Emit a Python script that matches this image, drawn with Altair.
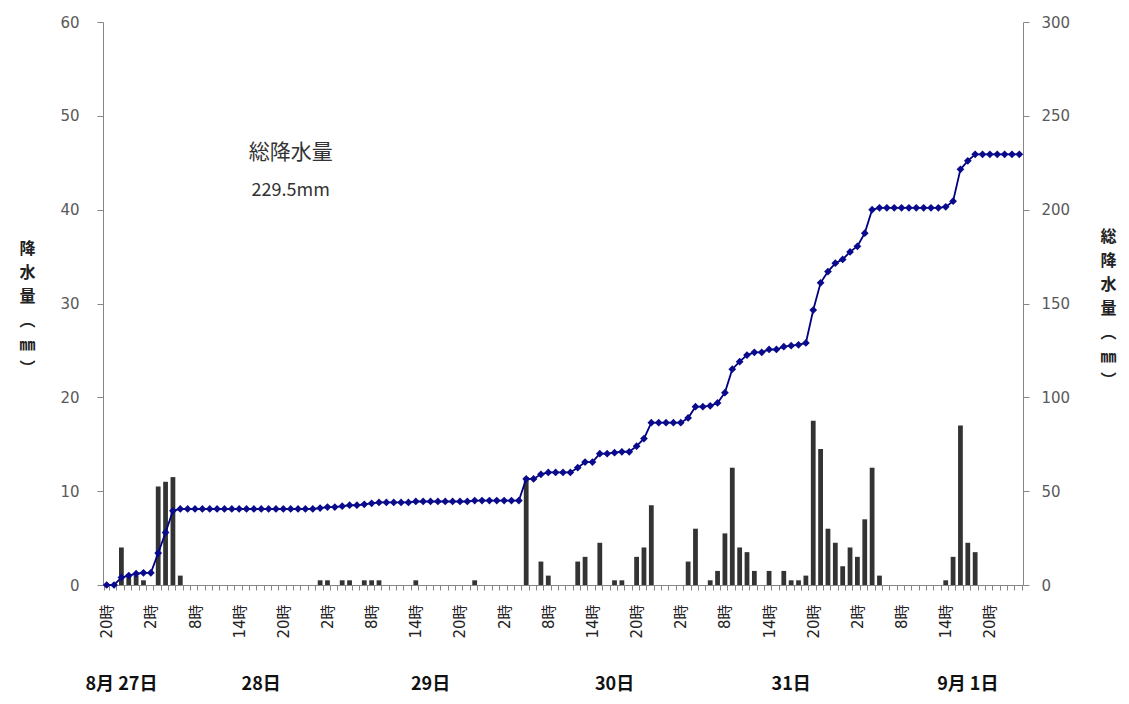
import json
import altair as alt
import pandas as pd

# hourly rainfall (mm), 8/27 20時 ... 9/2 0時
rain = [0, 0, 4.0, 1.0, 1.0, 0.5, 0, 10.5, 11.0, 11.5, 1.0,
        0, 0, 0, 0, 0, 0, 0, 0, 0, 0, 0, 0, 0, 0, 0, 0, 0, 0,
        0.5, 0.5, 0, 0.5, 0.5, 0, 0.5, 0.5, 0.5,
        0, 0, 0, 0,
        0.5,
        0, 0, 0, 0, 0, 0, 0,
        0.5,
        0, 0, 0, 0, 0, 0,
        11.5, 0, 2.5, 1.0,
        0, 0, 0,
        2.5, 3.0, 0, 4.5, 0, 0.5, 0.5, 0, 3.0, 4.0, 8.5,
        0, 0, 0, 0,
        2.5, 6.0, 0, 0.5, 1.5, 5.5, 12.5, 4.0, 3.5, 1.5, 0, 1.5, 0, 1.5,
        0.5, 0.5, 1.0, 17.5, 14.5, 6.0, 4.5, 2.0, 4.0, 3.0, 7.0, 12.5, 1.0,
        0, 0, 0, 0, 0, 0, 0, 0,
        0.5, 3.0, 17.0, 4.5, 3.5,
        0, 0, 0, 0, 0, 0]

# cumulative rainfall (mm)
total = [0, 0, 4, 5, 6, 6.5, 6.5, 17, 28, 39.5, 40.5,
         40.5, 40.5, 40.5, 40.5, 40.5, 40.5, 40.5, 40.5, 40.5, 40.5, 40.5, 40.5,
         40.5, 40.5, 40.5, 40.5, 40.5, 40.5,
         41, 41.5, 41.5, 42, 42.5, 42.5, 43, 43.5, 44,
         44, 44, 44, 44,
         44.5,
         44.5, 44.5, 44.5, 44.5, 44.5, 44.5, 44.5,
         45,
         45, 45, 45, 45, 45, 45,
         56.5, 56.5, 59, 60,
         60, 60, 60,
         62.5, 65.5, 65.5, 70, 70, 70.5, 71, 71, 74, 78, 86.5,
         86.5, 86.5, 86.5, 86.5,
         89, 95, 95, 95.5, 97, 102.5, 115, 119, 122.5, 124, 124, 125.5, 125.5, 127,
         127.5, 128, 129, 146.5, 161, 167, 171.5, 173.5, 177.5, 180.5, 187.5, 200, 201,
         201, 201, 201, 201, 201, 201, 201, 201,
         201.5, 204.5, 221.5, 226, 229.5,
         229.5, 229.5, 229.5, 229.5, 229.5, 229.5]

start_hour = 20
n = len(rain)
tick_text = [f"{(start_hour + i) % 24}時" if i % 6 == 0 else "" for i in range(n)]

day_labels = ["8月 27日", "28日", "29日", "30日", "31日", "9月 1日"]
day_pos = [2, 21, 44, 69, 93, 117]

note_text = ["総降水量", "229.5mm"]
note_pos = [25, 25]
note_y = [46, 42]
note_size = [21, 18]

df = pd.DataFrame({"i": list(range(n)), "rain": rain, "total": total})
days = pd.DataFrame({"i": day_pos, "label": day_labels})
notes = pd.DataFrame({"i": note_pos, "rain": note_y, "label": note_text, "size": note_size})

FONT = "DejaVu Sans, Noto Sans CJK JP"
CJK = "Noto Sans CJK JP"
W, H = 920, 563
GRAY = "#868686"

xscale = alt.Scale(paddingInner=0.35, paddingOuter=0.175)
xaxis = alt.Axis(
    title=None,
    labelExpr=json.dumps(tick_text, ensure_ascii=False) + "[datum.value]",
    labelAngle=270, labelOverlap=False, labelBound=False, labelFlush=False,
    labelFontSize=15, labelColor="#222222", labelFont=FONT, labelPadding=14,
    tickBand="extent", tickSize=5, tickColor=GRAY, domainColor=GRAY,
)
xenc = alt.X("i:O", scale=xscale, axis=xaxis)

bars = alt.Chart(df).mark_bar(color="#333333").encode(
    x=xenc,
    y=alt.Y("rain:Q", scale=alt.Scale(domain=[0, 60]),
            axis=alt.Axis(values=list(range(0, 61, 10)),
                          title=["降", "水", "量", "︵", "㎜", "︶"],
                          titleAngle=0, titleX=-76, titleY=218,
                          titleAlign="center", titleBaseline="top",
                          titleFont=CJK, titleFontSize=16, titleFontWeight="bold",
                          titleLineHeight=24, titleColor="#222222",
                          labelFontSize=15, labelColor="#595959", labelFont=FONT,
                          labelPadding=18, tickSize=6, tickColor=GRAY,
                          domainColor=GRAY, grid=False)),
)

note_marks = alt.Chart(notes).mark_text(font=CJK, color="#333333").encode(
    x=xenc,
    y=alt.Y("rain:Q"),
    text="label:N",
    size=alt.Size("size:Q", scale=None, legend=None),
)

day_marks = alt.Chart(days).mark_text(font=CJK, fontWeight="bold", fontSize=18,
                                      color="#111111").encode(
    x=xenc,
    y=alt.value(H + 100),
    text="label:N",
)

left = alt.layer(bars, note_marks, day_marks)

line = alt.Chart(df).mark_line(
    color="#000080", strokeWidth=1.8,
    point=alt.OverlayMarkDef(shape="diamond", size=60, filled=True, color="#0a0a8c"),
).encode(
    x=xenc,
    y=alt.Y("total:Q", scale=alt.Scale(domain=[0, 300]),
            axis=alt.Axis(orient="right", values=list(range(0, 301, 50)),
                          title=["総", "降", "水", "量", "︵", "㎜", "︶"],
                          titleAngle=0, titleX=85, titleY=206,
                          titleAlign="center", titleBaseline="top",
                          titleFont=CJK, titleFontSize=16, titleFontWeight="bold",
                          titleLineHeight=24, titleColor="#222222",
                          labelFontSize=15, labelColor="#595959", labelFont=FONT,
                          labelPadding=12, tickSize=6, tickColor=GRAY,
                          domainColor=GRAY, grid=False)),
)

chart = alt.layer(left, line).resolve_scale(y="independent").properties(
    width=W, height=H,
    autosize=alt.AutoSizeParams(type="none"),
    padding={"left": 95, "top": 14, "right": 98, "bottom": 111},
).configure_view(stroke=None).configure_axis(grid=False)

chart.save("out.html", embed_options={"renderer": "svg", "actions": False})
